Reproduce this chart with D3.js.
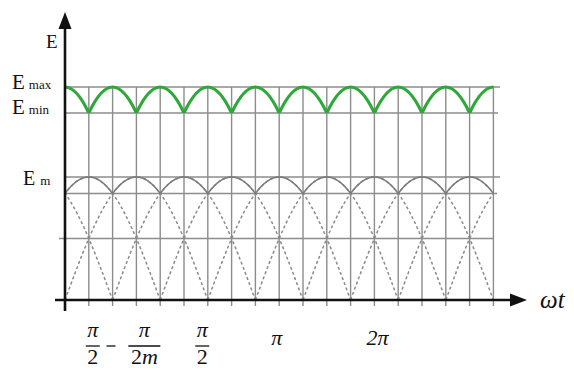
<!DOCTYPE html>
<html>
<head>
<meta charset="utf-8">
<script src="https://cdn.jsdelivr.net/npm/d3@7"></script>
<style>
  html, body { margin: 0; padding: 0; background: #fff; }
  svg { display: block; }
</style>
</head>
<body>
<svg id="chart" width="574" height="370"></svg>
<script>
// ---- data ----
// phase grid (electrical degrees), one cell = 30°
const gridDeg = [0, 30, 60, 90, 120, 150, 180, 210, 240, 270, 300, 330, 360, 390, 420, 450, 480, 510, 540];
// one rectified half-sine (profile read at grid points)
const halfWaveDeg = [0, 30, 60, 90, 120, 150, 180];
const halfWaveVal = [0, 0.5, 0.866, 1, 0.866, 0.5, 0];
// start phases (zero crossings) of the dashed rectified phase voltages
const waveStarts = [-120, -60, 0, 60, 120, 180, 240, 300, 360, 420, 480];
// peaks of the output (green) ripple
const ripplePeaks = [0, 60, 120, 180, 240, 300, 360, 420, 480, 540];
// relative levels
const levelEm = 1, levelCross = 0.866, levelHalf = 0.5;
const levelEmax = 1, levelEmin = 0.866;
// x tick labels: [phase position, kind]
const xLabels = [
  { deg: 35, type: "frac", num: "π", den: "2" },
  { deg: 58, type: "minus" },
  { deg: 100, type: "frac", num: "π", den: "2m" },
  { deg: 173, type: "frac", num: "π", den: "2" },
  { deg: 267, type: "plain", text: "π" },
  { deg: 394, type: "plain", text: "2π" }
];

// ---- drawing ----
const svg = d3.select("#chart");
const x = d3.scaleLinear().domain([0, 540]).range([65, 493.4]);
const yLow = d3.scaleLinear().domain([0, 1]).range([300, 177]);
const yHigh = d3.scaleLinear().domain([levelEmin, levelEmax]).range([113, 87]);

const gridColor = "#8c8c8c";
const defs = svg.append("defs");
defs.append("clipPath").attr("id", "plotClip").append("rect")
  .attr("x", x(0)).attr("y", 80).attr("width", x(540) - x(0)).attr("height", 222);
defs.append("clipPath").attr("id", "envClip").append("rect")
  .attr("x", x(0)).attr("y", yLow(1) - 2).attr("width", x(540) - x(0)).attr("height", yLow(levelCross) - yLow(1) + 2);
defs.append("clipPath").attr("id", "greenClip").append("rect")
  .attr("x", x(0)).attr("y", yHigh(1) - 4).attr("width", x(540) - x(0)).attr("height", yHigh(levelEmin) - yHigh(1) + 4);

// vertical grid
svg.append("g").selectAll("line").data(gridDeg).join("line")
  .attr("x1", d => x(d)).attr("x2", d => x(d))
  .attr("y1", yHigh(levelEmax)).attr("y2", 306)
  .attr("stroke", gridColor).attr("stroke-width", 1.4);

// horizontal grid
const hLines = [
  { y: yHigh(levelEmax), x0: x(0), x1: 500 },
  { y: yHigh(levelEmin), x0: x(0), x1: 498 },
  { y: yLow(levelEm), x0: x(0), x1: 500 },
  { y: yLow(levelCross), x0: x(0), x1: 497 },
  { y: yLow(levelHalf), x0: 59, x1: 494 }
];
svg.append("g").selectAll("line").data(hLines).join("line")
  .attr("x1", d => d.x0).attr("x2", d => d.x1)
  .attr("y1", d => d.y).attr("y2", d => d.y)
  .attr("stroke", gridColor).attr("stroke-width", 1.4);

// dashed rectified phase voltages
const pts = halfWaveDeg.map((d, i) => [d, halfWaveVal[i]]);
const lowLine = s => d3.line().curve(d3.curveNatural)
  .x(p => x(s + p[0])).y(p => yLow(p[1]))(pts);

svg.append("g").attr("clip-path", "url(#plotClip)")
  .selectAll("path").data(waveStarts).join("path")
  .attr("d", s => lowLine(s))
  .attr("fill", "none").attr("stroke", "#8a8a8a")
  .attr("stroke-width", 1.5).attr("stroke-dasharray", "3,2.5");

// solid envelope
svg.append("g").attr("clip-path", "url(#envClip)")
  .selectAll("path").data(waveStarts).join("path")
  .attr("d", s => lowLine(s))
  .attr("fill", "none").attr("stroke", "#7a7a7a").attr("stroke-width", 1.5);

// green output ripple
const highLine = c => d3.line().curve(d3.curveNatural)
  .x(p => x(c - 90 + p[0])).y(p => yHigh(p[1]))(pts);
svg.append("g").attr("clip-path", "url(#greenClip)")
  .selectAll("path").data(ripplePeaks).join("path")
  .attr("d", c => highLine(c))
  .attr("fill", "none").attr("stroke", "#2fa83a")
  .attr("stroke-width", 3.2).attr("stroke-linejoin", "round");

// axes
const axisColor = "#111";
svg.append("line").attr("x1", x(0)).attr("x2", x(0)).attr("y1", 311).attr("y2", 24)
  .attr("stroke", axisColor).attr("stroke-width", 2.6);
svg.append("path").attr("d", `M${x(0)},12 L${x(0) - 6.5},29 L${x(0) + 6.5},29 Z`).attr("fill", axisColor);
svg.append("line").attr("x1", 55).attr("x2", 514).attr("y1", 300).attr("y2", 300)
  .attr("stroke", axisColor).attr("stroke-width", 2.6);
svg.append("path").attr("d", `M527,300 L510,293.5 L510,306.5 Z`).attr("fill", axisColor);

// y labels
const serif = "'Liberation Serif', 'Times New Roman', serif";
function eLabel(px, py, size, sub, subDx) {
  const t = svg.append("text").attr("x", px).attr("y", py)
    .attr("font-family", serif).attr("font-size", size).attr("fill", "#111");
  t.append("tspan").text("E");
  if (sub) t.append("tspan").attr("dx", subDx).attr("font-size", 13).text(sub);
}
eLabel(46, 48, 19, null, 0);
eLabel(12, 89, 21, "max", 4);
eLabel(12, 114, 21, "min", 4);
eLabel(23, 185, 20, "m", 5);

// x-axis title
svg.append("text").attr("x", 540).attr("y", 308)
  .attr("font-family", serif).attr("font-style", "italic").attr("font-size", 25)
  .attr("fill", "#111").text("ωt");

// x labels
const lab = svg.append("g").attr("font-family", serif).attr("font-style", "italic")
  .attr("font-size", 22).attr("fill", "#111").attr("text-anchor", "middle");
xLabels.forEach(d => {
  const cx = x(d.deg);
  if (d.type === "frac") {
    lab.append("text").attr("x", cx).attr("y", 337).text(d.num);
    const den = lab.append("text").attr("x", cx).attr("y", 364);
    den.append("tspan").attr("font-style", "normal").text(d.den.slice(0, 1));
    if (d.den.length > 1) den.append("tspan").text(d.den.slice(1));
    const w = d.den.length > 1 ? 16 : 7;
    lab.append("line").attr("x1", cx - w).attr("x2", cx + w).attr("y1", 346).attr("y2", 346)
      .attr("stroke", "#111").attr("stroke-width", 1.3);
  } else if (d.type === "minus") {
    lab.append("line").attr("x1", cx - 4.5).attr("x2", cx + 4.5).attr("y1", 346).attr("y2", 346)
      .attr("stroke", "#111").attr("stroke-width", 1.3);
  } else {
    lab.append("text").attr("x", cx).attr("y", 345).text(d.text);
  }
});
</script>
</body>
</html>
